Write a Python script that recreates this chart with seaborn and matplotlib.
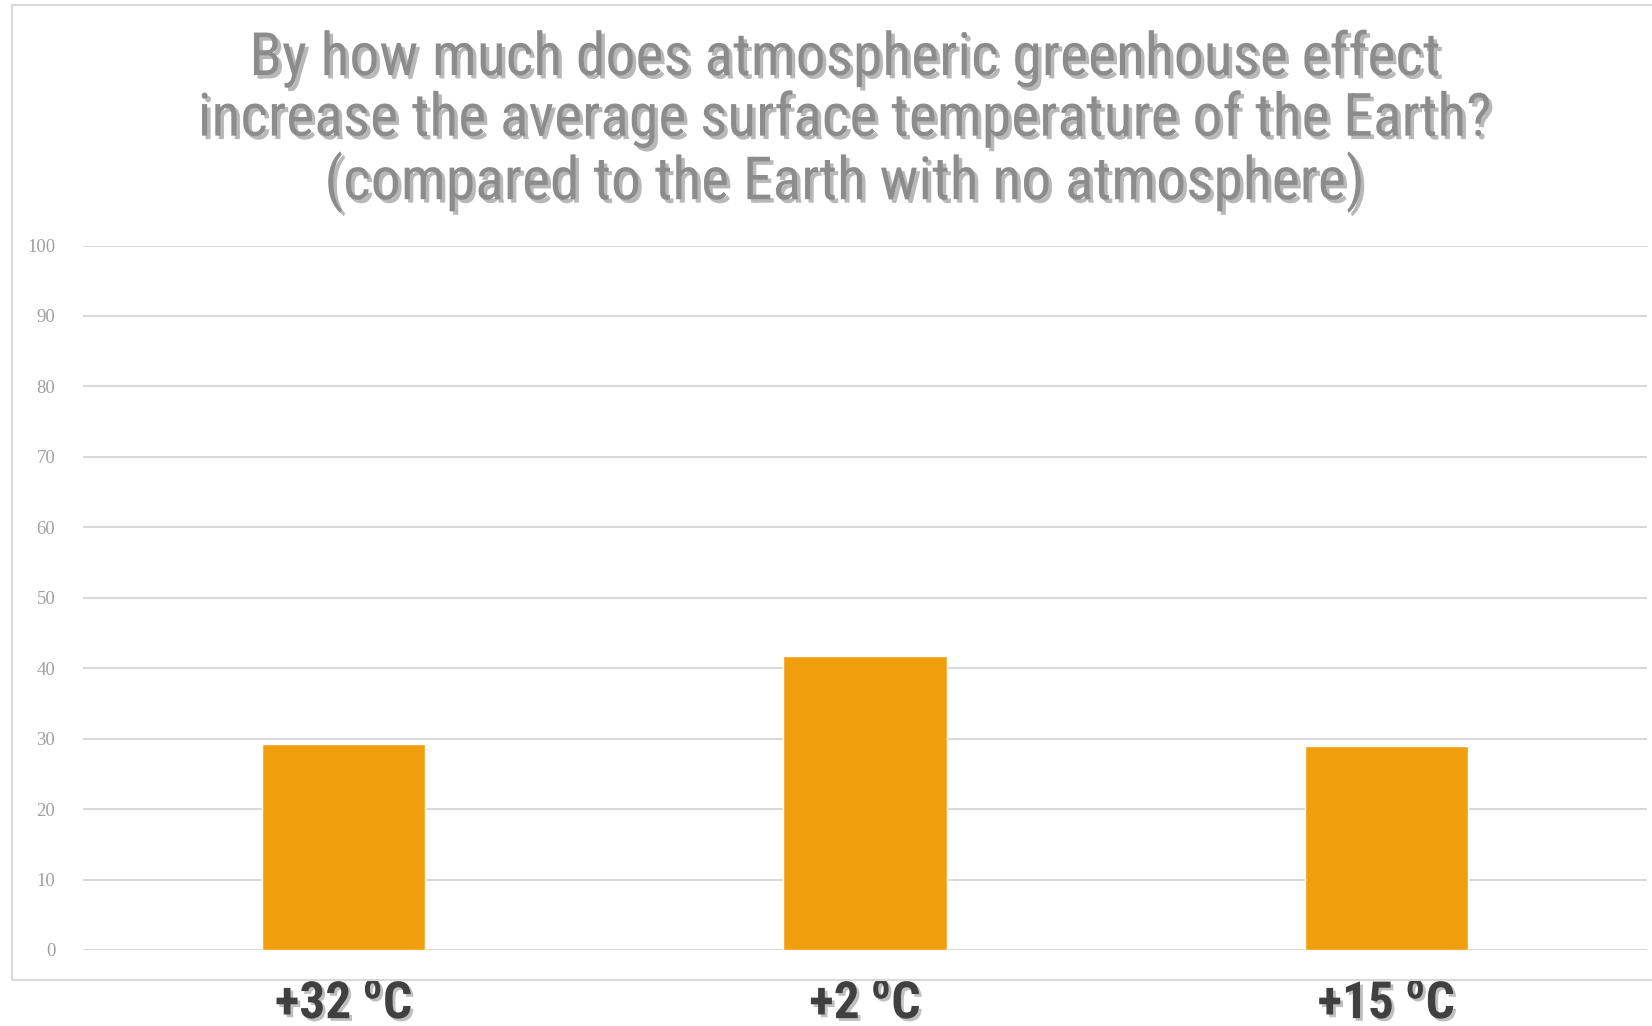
import matplotlib
matplotlib.use("Agg")
import matplotlib.pyplot as plt
import matplotlib.patheffects as pe
from matplotlib.patches import Rectangle
import seaborn as sns
import pandas as pd

# Survey answers and share of responses (%)
answers = ["+32 $^\\mathregular{o}$C", "+2 $^\\mathregular{o}$C", "+15 $^\\mathregular{o}$C"]
shares = [29.2, 41.8, 29.0]
y_ticks = [0, 10, 20, 30, 40, 50, 60, 70, 80, 90, 100]

title_lines = [
    "By how much does atmospheric greenhouse effect",
    "increase the average surface temperature of the Earth?",
    "(compared to the Earth with no atmosphere)",
]

sns.set_style("white")
plt.rcParams["font.family"] = ["Roboto Condensed", "Archivo Narrow", "DejaVu Sans"]

df = pd.DataFrame({"answer": answers, "share": shares})

fig = plt.figure(figsize=(16.52, 10.26), dpi=100)
ax = fig.add_axes([83 / 1652, 76 / 1026, (1647 - 83) / 1652, (950 - 245.5) / 1026])

sns.barplot(data=df, x="answer", y="share", color="#F29F0E", saturation=1,
            width=0.313, ax=ax, zorder=3)

ax.set_xlim(-0.5, 2.5)
ax.set_ylim(0, 100)
ax.set_yticks(y_ticks)
ax.grid(axis="y", color="#d9d9d9", linewidth=1.5, zorder=0)
ax.set_axisbelow(True)
for s in ax.spines.values():
    s.set_visible(False)
ax.set_xlabel("")
ax.set_ylabel("")
ax.tick_params(axis="y", length=0, pad=20, labelsize=13.5, labelcolor="#a0a0a0")
for lbl in ax.get_yticklabels():
    lbl.set_family(["Liberation Serif", "DejaVu Serif"])

ax.tick_params(axis="x", length=0, pad=21)
shadow = [pe.SimplePatchShadow(offset=(2, -2), shadow_rgbFace="#000000", alpha=0.25), pe.Normal()]
for lbl in ax.get_xticklabels():
    lbl.set_family(["Roboto Condensed", "Barlow Condensed", "DejaVu Sans"])
    lbl.set_fontsize(37)
    lbl.set_fontweight("bold")
    lbl.set_color("#404040")
    lbl.set_path_effects(shadow)

# Chart frame
fig.patches.append(Rectangle((11.6 / 1652, 46 / 1026), 1.2, (1020.7 - 46) / 1026,
                             transform=fig.transFigure, fill=False,
                             edgecolor="#d9d9d9", linewidth=1.5, zorder=0))

title_shadow = [pe.SimplePatchShadow(offset=(2.5, -2.5), shadow_rgbFace="#000000", alpha=0.28), pe.Normal()]
fig.text(845 / 1652, 1 - 30 / 1026, "\n".join(title_lines), ha="center", va="top",
         fontsize=43, color="#8c8c8c", linespacing=1.07, path_effects=title_shadow,
         multialignment="center")

fig.savefig("out.png", dpi=100)
